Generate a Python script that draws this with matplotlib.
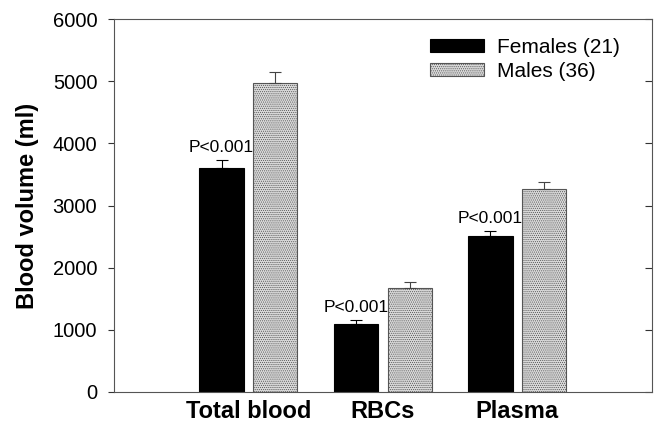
import numpy as np
import matplotlib.pyplot as plt

plt.rcParams['font.family'] = ['Liberation Sans', 'DejaVu Sans']
plt.rcParams['hatch.color'] = '#c4c4c4'
plt.rcParams['hatch.linewidth'] = 0.5

groups = ["Total blood", "RBCs", "Plasma"]
females = [3610, 1090, 2505]
females_err = [125, 65, 85]
males = [4965, 1680, 3260]
males_err = [180, 90, 120]
p_labels = ["P<0.001", "P<0.001", "P<0.001"]

fig = plt.figure(figsize=(6.55, 4.24), dpi=100)
ax = fig.add_axes([0.174, 0.0755, 0.821, 0.8795])

x = np.arange(1, len(groups) + 1)
w = 0.33
off = 0.2

ax.bar(x - off, females, w, color='black', edgecolor='black', linewidth=0.8,
       label='Females (21)')
ax.errorbar(x - off, females, yerr=[np.zeros(3), females_err], fmt='none',
            ecolor='black', elinewidth=0.8, capsize=4, capthick=0.8)
ax.bar(x + off, males, w, color='#dadada', edgecolor='#555555', linewidth=0.8,
       hatch='........', label='Males (36)')
ax.errorbar(x + off, males, yerr=[np.zeros(3), males_err], fmt='none',
            ecolor='#444444', elinewidth=0.8, capsize=4, capthick=0.8)

for xi, v, e, t in zip(x - off, females, females_err, p_labels):
    ax.text(xi, v + e + 80, t, ha='center', va='bottom', fontsize=12.5)

ax.set_xlim(0, 4)
ax.set_ylim(0, 6000)
ax.set_yticks(np.arange(0, 6001, 1000))
ax.set_xticks(x)
ax.set_xticklabels(groups, fontsize=17, fontweight='bold')
ax.tick_params(axis='x', length=0, pad=6)
ax.tick_params(axis='y', labelsize=14.5, length=4, width=0.8, pad=8,
               direction='out', colors='#333333', labelcolor='black')
sec = ax.secondary_yaxis('right')
sec.set_yticks(np.arange(0, 6001, 1000))
sec.tick_params(direction='in', length=5, width=0.8, colors='#333333',
                labelright=False)
sec.spines['right'].set_visible(False)
ax.set_ylabel('Blood volume (ml)', fontsize=17, fontweight='bold', labelpad=10)

for s in ax.spines.values():
    s.set_color('#555555')
    s.set_linewidth(0.8)

ax.legend(loc='upper right', bbox_to_anchor=(0.975, 1.0), frameon=False,
          fontsize=15, handlelength=2.6, handleheight=0.6, labelspacing=0.25,
          handletextpad=0.6)

fig.savefig('out.png', dpi=100)
